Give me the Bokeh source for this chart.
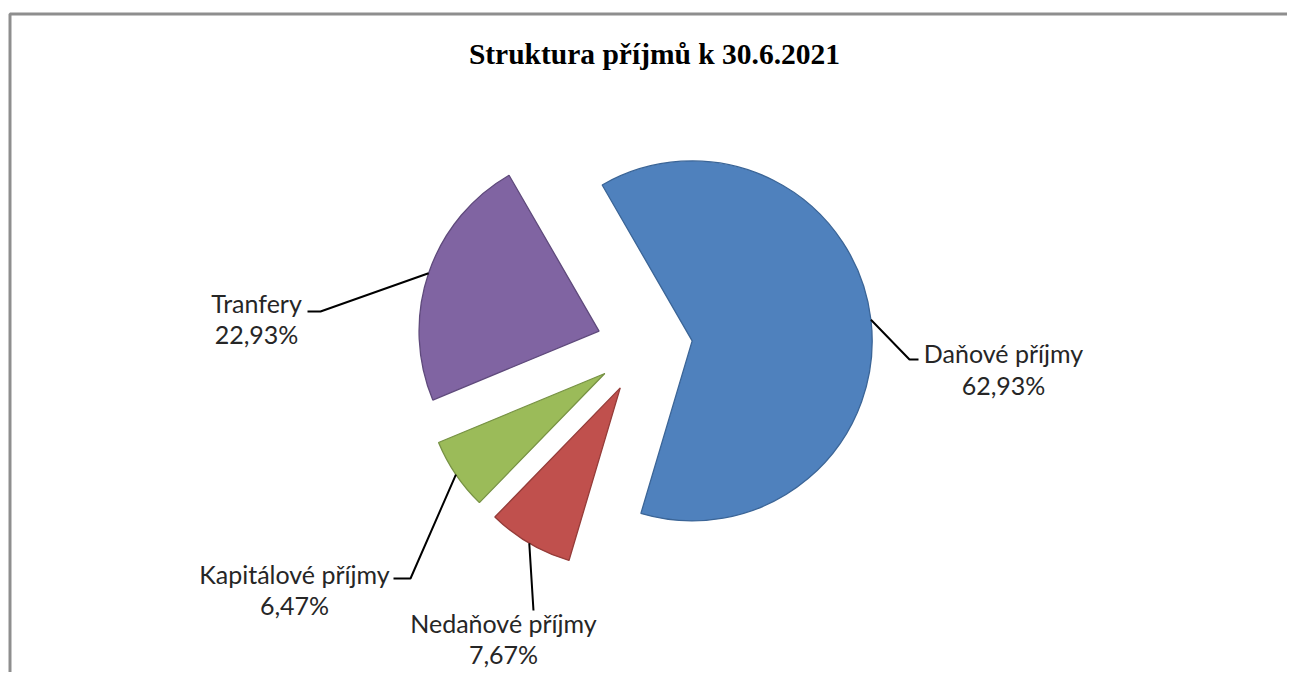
import math
from bokeh.plotting import figure
from bokeh.models import Range1d, ColumnDataSource
from bokeh.core.properties import value
from bokeh.embed import file_html
from bokeh.resources import INLINE

# ---- data ----
categories = ["Daňové příjmy", "Nedaňové příjmy", "Kapitálové příjmy", "Tranfery"]
shares = [62.93, 7.67, 6.47, 22.93]
pct_labels = ["62,93%", "7,67%", "6,47%", "22,93%"]
colors = ["#4F81BD", "#C0504D", "#9BBB59", "#8064A2"]
outline_colors = ["#3B6597", "#953C39", "#779244", "#5F4A7C"]
title_text = "Struktura příjmů k 30.6.2021"

# ---- layout (image pixel units) ----
W, H = 1287, 672
def pg(xp, yp):
    """image pixel -> data coords"""
    return xp, H - yp

CX, CY = 644, 346          # pie centre
R = 180                    # radius
EXPLODE = 48               # explosion distance
FIRST_ANGLE = 330.0        # first slice angle, clockwise from 12 o'clock

# label layout: (elbow_x, elbow_y, end_x, end_y, text_cx, line1_cy, line2_cy)
label_layout = [
    (909, 359, 918, 359, 1003, 352, 384),
    (533, 610, 533, 610, 503, 622, 653),
    (410, 578, 393, 578, 294, 573, 604),
    (320, 311, 307, 311, 256, 302, 333),
]

p = figure(width=W, height=H, output_backend="svg", toolbar_location=None,
           x_range=Range1d(0, W), y_range=Range1d(0, H), min_border=0)
p.axis.visible = False
p.grid.visible = False
p.outline_line_color = None
p.background_fill_color = "white"
p.border_fill_color = "white"

# chart area border (extends beyond the visible page)
bx0, by0 = pg(9.5, 13.5)
bx1, by1 = pg(W + 5, H + 5)
p.line([bx0, bx0, bx1], [by1, by0, by0], line_color="#8E8E8E", line_width=3)

# title
tx, ty = pg(654, 53)
p.text([tx], [ty], text=[title_text], text_align="center", text_baseline="middle",
       text_font=value("Liberation Serif"), text_font_style="bold",
       text_font_size="29.5px", text_color="#000000")

total = sum(shares)
theta = FIRST_ANGLE
cx, cy = pg(CX, CY)
wx, wy, sa, ea = [], [], [], []
lead_xs, lead_ys = [], []
for i, s in enumerate(shares):
    span = s / total * 360.0
    t0, t1 = theta, theta + span
    mid = (t0 + t1) / 2.0
    ma = math.radians(90.0 - mid)
    dx, dy = math.cos(ma), math.sin(ma)
    vx, vy = cx + EXPLODE * dx, cy + EXPLODE * dy
    wx.append(vx); wy.append(vy)
    sa.append(math.radians(90.0 - t0)); ea.append(math.radians(90.0 - t1))
    sx, sy = vx + R * dx, vy + R * dy
    ex_, ey_, fx, fy, tcx, l1, l2 = label_layout[i]
    e = pg(ex_, ey_); f = pg(fx, fy)
    lead_xs.append([sx, e[0], f[0]]); lead_ys.append([sy, e[1], f[1]])
    theta = t1

src = ColumnDataSource(dict(x=wx, y=wy, sa=sa, ea=ea, c=colors, lc=outline_colors))
p.wedge(x="x", y="y", radius=R, start_angle="sa", end_angle="ea", direction="clock",
        fill_color="c", line_color="lc", line_width=1.3, source=src)

p.multi_line(lead_xs, lead_ys, line_color="#000000", line_width=2)

lx, ly, lt = [], [], []
for i in range(len(categories)):
    _, _, _, _, tcx, l1, l2 = label_layout[i]
    a = pg(tcx, l1); b = pg(tcx, l2)
    lx += [a[0], b[0]]; ly += [a[1], b[1]]; lt += [categories[i], pct_labels[i]]
p.text(lx, ly, text=lt, text_align="center", text_baseline="middle",
       text_font=value("Lato"), text_font_size="25px", text_color="#262626")

open("out.html", "w").write(file_html(p, INLINE))
